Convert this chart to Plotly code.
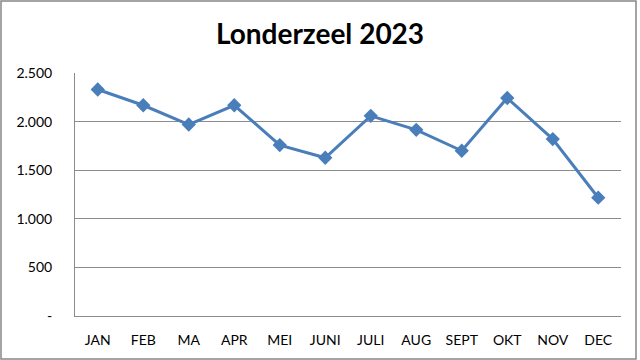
import plotly.graph_objects as go

months = ["JAN", "FEB", "MA", "APR", "MEI", "JUNI", "JULI", "AUG", "SEPT", "OKT", "NOV", "DEC"]
values = [2330, 2168, 1970, 2168, 1758, 1628, 2059, 1915, 1700, 2243, 1820, 1217]
ytick_vals = [0, 500, 1000, 1500, 2000, 2500]
ytick_text = ["-", "500", "1.000", "1.500", "2.000", "2.500"]
title_text = "Londerzeel 2023"

FONT = "Lato, Carlito, Calibri, sans-serif"
GRID = "#8c8c8c"

fig = go.Figure()
fig.add_trace(go.Scatter(
    x=months, y=values, mode="lines+markers",
    line=dict(color="#4A7EBB", width=3),
    marker=dict(symbol="diamond", size=11, color="#4A7EBB"),
    showlegend=False,
))

fig.update_layout(
    width=640, height=360,
    margin=dict(l=75, r=19, t=73, b=44),
    paper_bgcolor="white", plot_bgcolor="white",
    title=dict(text=f"<b>{title_text}</b>", x=0.5, xanchor="center",
               y=1 - 34 / 360, yanchor="middle", yref="container",
               font=dict(family=FONT, size=28, color="black")),
    font=dict(family=FONT, size=14, color="black"),
    xaxis=dict(range=[-0.5, len(months) - 0.5],
               showgrid=False, showline=True, linecolor=GRID, linewidth=1,
               ticks="", ticklabelstandoff=11, tickfont=dict(size=14),
               fixedrange=True),
    yaxis=dict(range=[0, 2500], tickvals=ytick_vals, ticktext=ytick_text,
               showgrid=True, gridcolor=GRID, gridwidth=1,
               showline=True, linecolor=GRID, linewidth=1,
               zeroline=False, ticks="", ticklabelstandoff=19,
               tickfont=dict(size=14), fixedrange=True),
    shapes=[dict(type="rect", xref="paper", yref="paper",
                 x0=(1 - 75) / 546, x1=(636 - 75) / 546,
                 y0=(316 - 359) / 243, y1=(316 - 1) / 243,
                 line=dict(color="#868686", width=1.5), fillcolor="rgba(0,0,0,0)",
                 layer="below")],
)

fig.write_html("out.html", config={"displayModeBar": False},
               post_script="document.body.style.margin='0';document.body.style.overflow='hidden';")
